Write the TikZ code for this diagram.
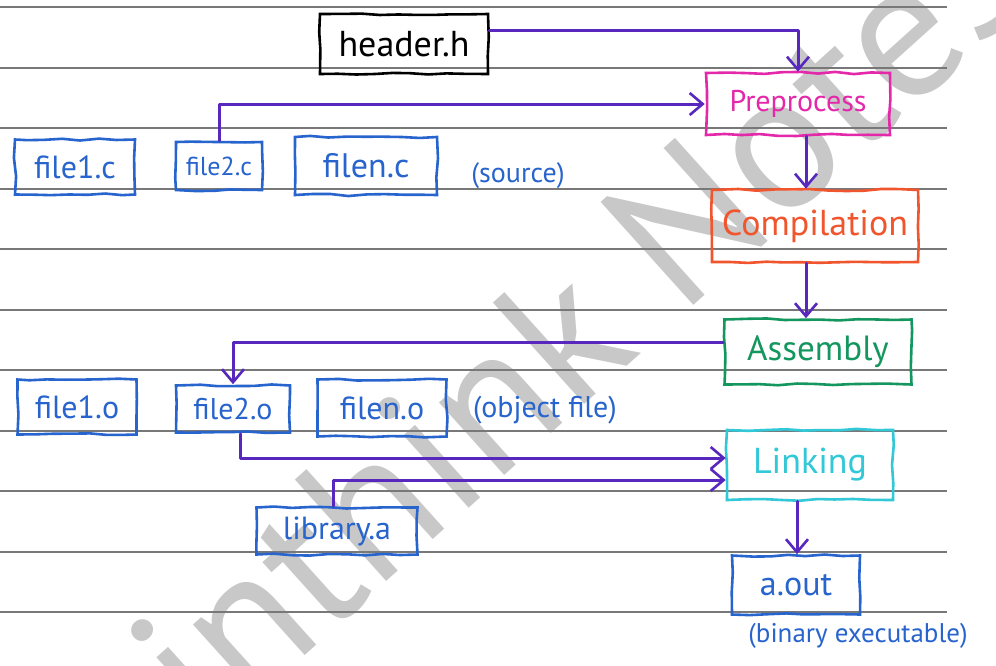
\documentclass[tikz,border=0pt]{standalone}
\usepackage{fontspec}
\setmainfont{PT Sans}
\usetikzlibrary{arrows.meta,decorations.pathmorphing}
\definecolor{inkblue}{RGB}{40,100,205}
\definecolor{inkpurple}{RGB}{88,40,190}
\definecolor{inkmagenta}{RGB}{228,40,170}
\definecolor{inkorange}{RGB}{240,85,45}
\definecolor{inkgreen}{RGB}{20,150,95}
\definecolor{inkcyan}{RGB}{50,200,215}
\definecolor{ruleline}{RGB}{120,120,120}
\definecolor{wmark}{RGB}{200,200,200}
\newcommand{\fs}[1]{\fontsize{#1}{#1}\selectfont}
\tikzset{
  box/.style={draw, line width=2.6pt, inner sep=0pt, align=center,
    decorate, decoration={random steps, segment length=18pt, amplitude=1.1pt}},
  bluebox/.style={box, draw=inkblue, text=inkblue},
  note/.style={text=inkblue, inner sep=0pt},
  conn/.style={draw=inkpurple, line width=3pt, line cap=round, line join=round},
  arr/.style={conn, -{Straight Barb[length=13pt,width=22pt,line width=2.6pt]}},
  rule/.style={draw=ruleline, line width=1.4pt}
}
\begin{document}
\pgfmathsetseed{7}
\begin{tikzpicture}[x=1pt,y=-1pt]
\useasboundingbox (0,0) rectangle (996,665);
\fill[white] (0,0) rectangle (996,665);
% watermark
\node[text=wmark, font=\fs{195}, rotate=42, inner sep=0pt] (wm) at (578,318) {inthink Notes};
% ruled lines
\foreach \yy in {7,68,128,189,249,310,370,431,491,552,612}
  \draw[rule] (0,\yy) -- (947,\yy);
% process column
\node[box, draw=black, text=black, minimum width=168pt, minimum height=60pt, font=\fs{36}] (header) at (404,44) {header.h};
\node[box, draw=inkmagenta, text=inkmagenta, minimum width=184pt, minimum height=62pt, font=\fs{30}] (pre) at (798,104) {Preprocess};
\node[box, draw=inkorange, text=inkorange, minimum width=206pt, minimum height=72pt, font=\fs{36}] (comp) at (815,226) {Compilation};
\node[box, draw=inkgreen, text=inkgreen, minimum width=187pt, minimum height=65pt, font=\fs{35}] (asm) at (818,352) {Assembly};
\node[box, draw=inkcyan, text=inkcyan, minimum width=166pt, minimum height=70pt, font=\fs{36}] (link) at (810,465) {Linking};
\node[bluebox, minimum width=128pt, minimum height=59pt, font=\fs{34}] (aout) at (796,585) {a.out};
\node[note, font=\fs{27}] (binlbl) at (858,636) {(binary executable)};
% source files
\node[bluebox, minimum width=120pt, minimum height=55pt, font=\fs{32}] (f1c) at (75,167) {file1.c};
\node[bluebox, minimum width=86pt, minimum height=48pt, font=\fs{26}] (f2c) at (219,166) {file2.c};
\node[bluebox, minimum width=142pt, minimum height=58pt, font=\fs{34}] (fnc) at (366,166) {filen.c};
\node[note, font=\fs{28}] (srclbl) at (518,176) {(source)};
% object files
\node[bluebox, minimum width=119pt, minimum height=55pt, font=\fs{32}] (f1o) at (77,407) {file1.o};
\node[bluebox, minimum width=114pt, minimum height=47pt, font=\fs{30}] (f2o) at (233,409) {file2.o};
\node[bluebox, minimum width=129pt, minimum height=57pt, font=\fs{32}] (fno) at (382,408) {filen.o};
\node[note, font=\fs{30}] (objlbl) at (545,410) {(object file)};
% library
\node[bluebox, minimum width=161pt, minimum height=47pt, font=\fs{32}] (lib) at (337,531) {library.a};
% connectors
\draw[arr] ([yshift=14pt]header.east) -| (pre.north);
\draw[arr] (f2c.north) |- (pre.west);
\draw[arr] ([xshift=8pt]pre.south) -- ([xshift=8pt]pre.south |- comp.north);
\draw[arr] ([xshift=-9pt]comp.south) -- ([xshift=-9pt]comp.south |- asm.north);
\draw[arr] ([yshift=10pt]asm.west) -| (f2o.north);
\draw[arr] ([xshift=7pt]f2o.south) |- ([yshift=7pt]link.west);
\draw[arr] ([xshift=-4pt]lib.north) |- ([yshift=-15pt]link.west);
\draw[arr] ([xshift=-13pt]link.south) -- ([xshift=-13pt]link.south |- aout.north);
\end{tikzpicture}
\end{document}
